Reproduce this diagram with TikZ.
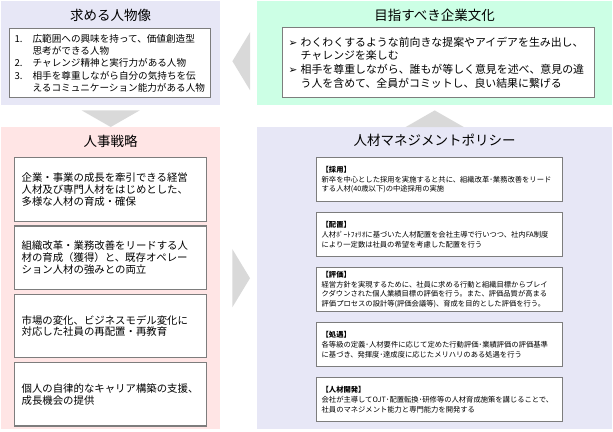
\documentclass[tikz,border=0pt]{standalone}
\usepackage{fontspec}
\setmainfont{Noto Sans CJK JP}
\newfontfamily\symfont{DejaVu Sans}
\usetikzlibrary{positioning, calc}

\definecolor{lavpanel}{RGB}{231,231,246}
\definecolor{mintpanel}{RGB}{204,255,229}
\definecolor{pinkpanel}{RGB}{255,229,229}
\definecolor{flowgray}{RGB}{217,217,217}
\definecolor{boxline}{RGB}{125,125,125}

\newcommand{\wantno}[1]{\makebox[18pt][l]{#1}}
\newcommand{\cultbullet}{\makebox[12pt][l]{\symfont\fontsize{10.5}{10.5}\selectfont ➢}}

\begin{document}
\begin{tikzpicture}[x=1pt, y=-1pt,
    panel/.style={rectangle, inner sep=0pt, anchor=north west},
    ttl/.style={font=\fontsize{13.5}{15}\selectfont, inner sep=0pt},
    card/.style={rectangle, draw=boxline, line width=1.3pt, fill=white,
                 anchor=north west, align=left, inner ysep=2pt},
    wantbox/.style={card, text width=191pt, inner xsep=5pt, minimum height=69pt,
                    font=\fontsize{9.6}{12.3}\selectfont},
    culturebox/.style={card, text width=300pt, inner xsep=6pt, minimum height=70pt,
                       font=\fontsize{10.9}{13.8}\selectfont},
    stratcard/.style={card, text width=178pt, inner xsep=7pt, minimum height=63.5pt,
                      font=\fontsize{10.4}{11.8}\selectfont},
    policycard/.style={card, text width=236pt, inner xsep=5pt, minimum height=44pt,
                       font=\fontsize{7.3}{9.6}\selectfont},
    flow/.style={fill=flowgray}
]
\useasboundingbox (0,0) rectangle (613,431);

% panels
\node[panel, fill=lavpanel,  minimum width=219pt, minimum height=104pt] (want)    at (1,1)   {};
\node[panel, fill=mintpanel, minimum width=355pt, minimum height=104pt] (culture) at (257,1) {};
\node[panel, fill=pinkpanel, minimum width=219pt, minimum height=302pt] (strat)   at (1,127) {};
\node[panel, fill=lavpanel,  minimum width=355pt, minimum height=302pt] (policy)  at (257,127) {};

\node[ttl] (wantTitle)    at ($(want.north)+(0,14)$)    {求める人物像};
\node[ttl] (cultureTitle) at ($(culture.north)+(0,14)$) {目指すべき企業文化};
\node[ttl] (stratTitle)   at ($(strat.north)+(0,14)$)   {人事戦略};
\node[ttl] (policyTitle)  at ($(policy.north)+(0,13)$)  {人材マネジメントポリシー};

% flow triangles
\fill[flow] ($(want.south)+(-29,5)$) -- ($(want.south)+(29,5)$) -- (strat.north) -- cycle;
\fill[flow] ($(policy.north)+(-29,0)$) -- ($(policy.north)+(29,0)$) -- ($(culture.south)+(0,5)$) -- cycle;
\fill[flow] ($(culture.west)+(-7,-21)$) -- ($(culture.west)+(-7,37)$) -- ($(want.east)+(12,8)$) -- cycle;
\fill[flow] ($(strat.east)+(12,-29)$) -- ($(strat.east)+(12,29)$) -- ($(policy.west)+(-7,0)$) -- cycle;

% top row
\node[wantbox] (wantList) at (9,28) {%
    \wantno{1.}広範囲への興味を持って、価値創造型\\
    \hspace*{18pt}思考ができる人物\\
    \wantno{2.}チャレンジ精神と実行力がある人物\\
    \wantno{3.}相手を尊重しながら自分の気持ちを伝\\
    \hspace*{18pt}えるコミュニケーション能力がある人物};
\node[culturebox] (cultureList) at (282,27) {%
    \cultbullet わくわくするような前向きな提案やアイデアを生み出し、\\
    \hspace*{12pt}チャレンジを楽しむ\\
    \cultbullet 相手を尊重しながら、誰もが等しく意見を述べ、意見の違\\
    \hspace*{12pt}う人を含めて、全員がコミットし、良い結果に繋げる};

% strategy
\node[stratcard] (s1) at (14,157) {企業・事業の成長を牽引できる経営\\人材及び専門人材をはじめとした、\\多様な人材の育成・確保};
\node[stratcard, below=3.5pt of s1] (s2) {組織改革・業務改善をリードする人\\材の育成（獲得）と、既存オペレー\\ション人材の強みとの両立};
\node[stratcard, below=3.5pt of s2] (s3) {市場の変化、ビジネスモデル変化に\\対応した社員の再配置・再教育};
\node[stratcard, below=3.5pt of s3] (s4) {個人の自律的なキャリア構築の支援、\\成長機会の提供};

% policy
\node[policycard] (p1) at (316,157) {{\bfseries 【採用】}\\新卒を中心とした採用を実施すると共に、組織改革･業務改善をリード\\する人材(40歳以下)の中途採用の実施};
\node[policycard, below=9.7pt of p1] (p2) {{\bfseries 【配置】}\\人材ﾎﾟｰﾄﾌｫﾘｵに基づいた人材配置を会社主導で行いつつ、社内FA制度\\により一定数は社員の希望を考慮した配置を行う};
\node[policycard, below=9.7pt of p2] (p3) {{\bfseries 【評価】}\\経営方針を実現するために、社員に求める行動と組織目標からブレイ\\クダウンされた個人業績目標の評価を行う。また、評価品質が高まる\\評価プロセスの設計等(評価会議等)、育成を目的とした評価を行う。};
\node[policycard, below=9.7pt of p3] (p4) {{\bfseries 【処遇】}\\各等級の定義･人材要件に応じて定めた行動評価･業績評価の評価基準\\に基づき、発揮度･達成度に応じたメリハリのある処遇を行う};
\node[policycard, below=9.7pt of p4] (p5) {{\bfseries 【人材開発】}\\会社が主導してOJT･配置転換･研修等の人材育成施策を講じることで、\\社員のマネジメント能力と専門能力を開発する};
\end{tikzpicture}
\end{document}
